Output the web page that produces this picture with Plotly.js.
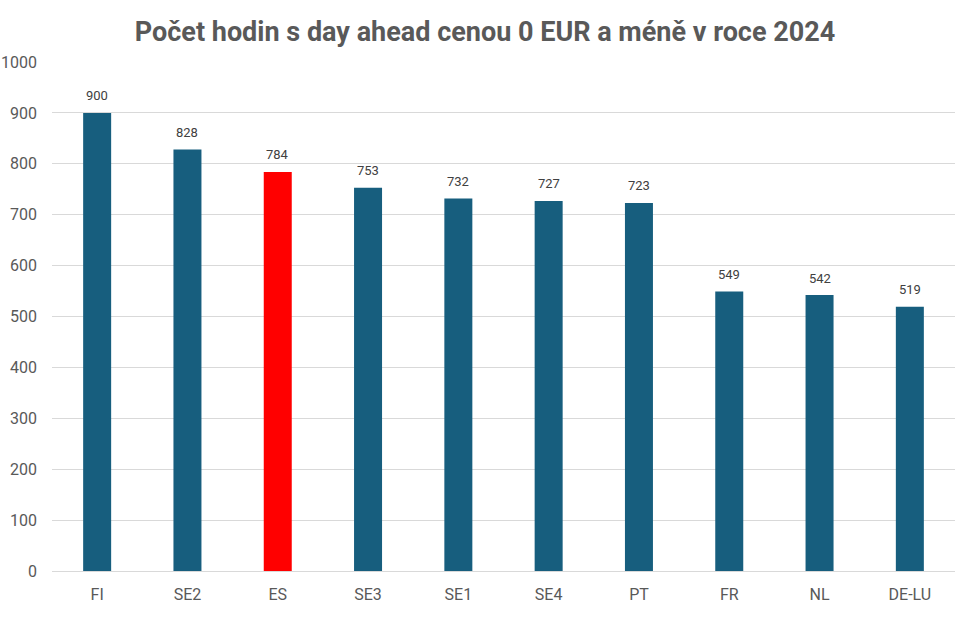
<!DOCTYPE html>
<html>
<head>
<meta charset="utf-8">
<script src="https://cdn.plot.ly/plotly-3.0.1.min.js"></script>
<style>
  html,body{margin:0;padding:0;background:#fff;}
  #chart{width:970px;height:626px;}
</style>
</head>
<body>
<div id="chart"></div>
<script>
// ── Hodiny se zápornou / nulovou cenou ───────────────────────────────
const zones  = ['FI','SE2','ES','SE3','SE1','SE4','PT','FR','NL','DE-LU'];
const hours  = [900, 828, 784, 753, 732, 727, 723, 549, 542, 519];
const highlight = 'ES';
const yTicks = [0,100,200,300,400,500,600,700,800,900,1000];

const BLUE='#175e7e', RED='#ff0000', GREY='#595959';
const FONT='Roboto, Liberation Sans, sans-serif';
const colors = zones.map(z => z===highlight ? RED : BLUE);

const trace = {
  type:'bar', x:zones, y:hours,
  marker:{color:colors, line:{width:0}},
  width:0.31,
  hoverinfo:'x+y'
};

// popisky hodnot nad sloupci
const labels = zones.map((z,i)=>({
  x:z, y:hours[i], xref:'x', yref:'y', text:String(hours[i]),
  showarrow:false, yanchor:'middle', yshift:17,
  font:{family:FONT, size:13, color:'#404040'}
}));

const layout = {
  width:970, height:626,
  paper_bgcolor:'#fff', plot_bgcolor:'#fff',
  margin:{l:52,r:15,t:62,b:55},
  title:{text:'<b>Počet hodin s day ahead cenou 0 EUR a méně v roce 2024</b>',
    x:0.5, xanchor:'center', y:0.95, yanchor:'middle',
    font:{family:FONT, size:27, color:GREY}},
  xaxis:{showgrid:false, zeroline:false, showline:false, ticks:'', ticklabelstandoff:12,
    tickfont:{family:FONT, size:16, color:GREY}},
  yaxis:{range:[0,1000], tickvals:yTicks, showgrid:true, gridcolor:'#d9d9d9', gridwidth:1,
    zeroline:true, zerolinecolor:'#d9d9d9', showline:false, ticks:'', ticklabelstandoff:14,
    tickfont:{family:FONT, size:16, color:GREY}},
  annotations:labels,
  bargap:0.69, showlegend:false
};

Plotly.newPlot('chart',[trace],layout,{displayModeBar:false, staticPlot:true});
</script>
</body>
</html>
